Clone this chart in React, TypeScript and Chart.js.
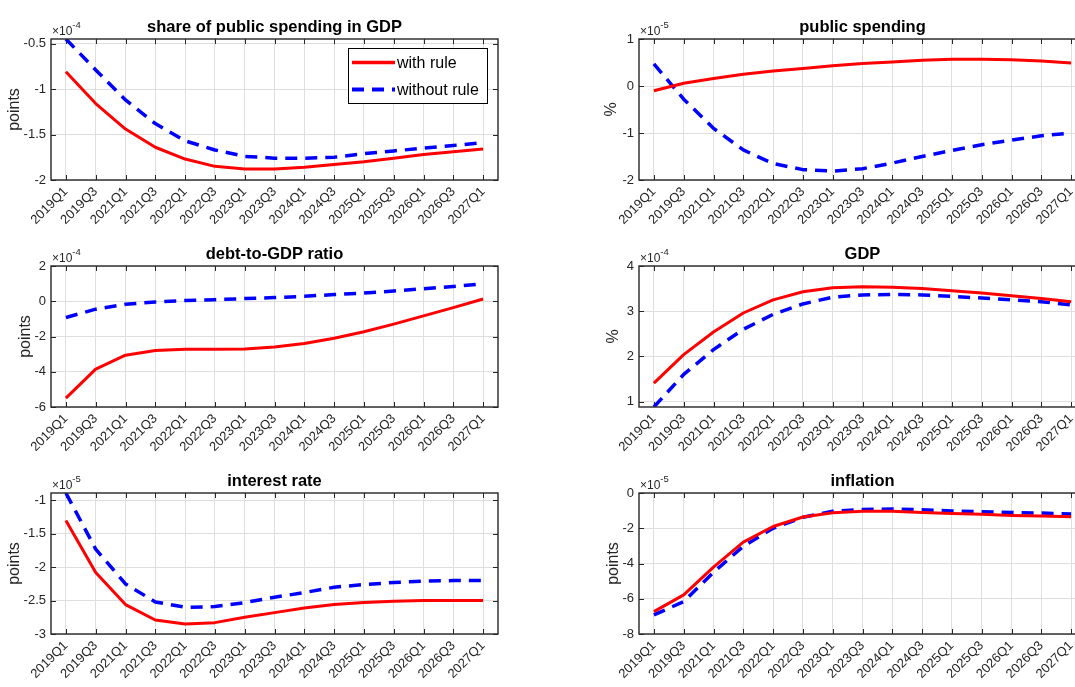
import React, { useEffect, useRef } from "react";
import { Chart, registerables } from "chart.js";

Chart.register(...registerables);

// ---------- data ----------
const QUARTERS = [
  "2019Q1", "2019Q3", "2021Q1", "2021Q3", "2022Q1", "2022Q3", "2023Q1", "2023Q3",
  "2024Q1", "2024Q3", "2025Q1", "2025Q3", "2026Q1", "2026Q3", "2027Q1",
];

const LEGEND_LABELS = ["with rule", "without rule"];

// share of public spending in GDP (x10^-4, points)
const SHARE_WITH = [-0.81, -1.16, -1.44, -1.64, -1.77, -1.85, -1.88, -1.88, -1.86, -1.83, -1.8, -1.76, -1.72, -1.69, -1.66];
const SHARE_WITHOUT = [-0.45, -0.79, -1.12, -1.38, -1.57, -1.67, -1.74, -1.76, -1.76, -1.75, -1.71, -1.68, -1.65, -1.62, -1.59];
const SHARE_TICKS = [-2, -1.5, -1, -0.5];

// public spending (x10^-5, %)
const SPEND_WITH = [-0.1, 0.06, 0.16, 0.25, 0.32, 0.37, 0.43, 0.48, 0.51, 0.55, 0.57, 0.57, 0.56, 0.53, 0.49];
const SPEND_WITHOUT = [0.47, -0.28, -0.9, -1.36, -1.65, -1.78, -1.81, -1.76, -1.64, -1.5, -1.37, -1.25, -1.15, -1.06, -1.0];
const SPEND_TICKS = [-2, -1, 0, 1];

// debt-to-GDP ratio (x10^-4, points)
const DEBT_WITH = [-5.5, -3.85, -3.06, -2.8, -2.73, -2.73, -2.71, -2.6, -2.4, -2.1, -1.73, -1.3, -0.83, -0.36, 0.13];
const DEBT_WITHOUT = [-0.92, -0.45, -0.17, -0.04, 0.04, 0.09, 0.15, 0.21, 0.28, 0.38, 0.47, 0.58, 0.71, 0.84, 0.99];
const DEBT_TICKS = [-6, -4, -2, 0, 2];

// GDP (x10^-4, %)
const GDP_WITH = [1.41, 2.04, 2.54, 2.96, 3.25, 3.43, 3.52, 3.54, 3.53, 3.5, 3.45, 3.4, 3.34, 3.28, 3.21];
const GDP_WITHOUT = [0.88, 1.6, 2.15, 2.6, 2.93, 3.16, 3.31, 3.36, 3.37, 3.36, 3.33, 3.29, 3.25, 3.21, 3.14];
const GDP_TICKS = [1, 2, 3, 4];

// interest rate (x10^-5, points)
const RATE_WITH = [-1.3, -2.08, -2.56, -2.79, -2.85, -2.83, -2.75, -2.68, -2.61, -2.56, -2.53, -2.51, -2.5, -2.5, -2.5];
const RATE_WITHOUT = [-0.89, -1.73, -2.25, -2.52, -2.6, -2.59, -2.53, -2.45, -2.38, -2.3, -2.26, -2.23, -2.21, -2.2, -2.2];
const RATE_TICKS = [-3, -2.5, -2, -1.5, -1];

// inflation (x10^-5, points)
const INFL_WITH = [-6.73, -5.78, -4.21, -2.79, -1.9, -1.36, -1.12, -1.04, -1.04, -1.1, -1.16, -1.21, -1.27, -1.31, -1.35];
const INFL_WITHOUT = [-6.92, -6.16, -4.5, -3.02, -2.0, -1.38, -1.04, -0.93, -0.91, -0.95, -1.02, -1.06, -1.1, -1.14, -1.19];
const INFL_TICKS = [-8, -6, -4, -2, 0];

// ---------- layout ----------
const FONT = "'Liberation Sans', Arial, Helvetica, sans-serif";
const INK = "#262626";
const COL_LEFT = [51, 639];
const ROW_TOP = [39, 266, 493];
const PLOT_W = 447;
const PLOT_H = 141;
const Y_AXIS_W = 50;
const X_AXIS_H = 56;
const TITLE_H = 30;
const PAD_RIGHT = 12;

type PanelCfg = {
  title: string;
  yLabel: string;
  exp: string;
  withRule: number[];
  withoutRule: number[];
  yMin: number;
  yMax: number;
  yTicks: number[];
  col: number;
  row: number;
  yTitlePad: number;
  legend?: boolean;
};

const PANELS: PanelCfg[] = [
  { title: "share of public spending in GDP", yLabel: "points", exp: "-4", withRule: SHARE_WITH, withoutRule: SHARE_WITHOUT, yMin: -2, yMax: -0.45, yTicks: SHARE_TICKS, col: 0, row: 0, yTitlePad: 4, legend: true },
  { title: "public spending", yLabel: "%", exp: "-5", withRule: SPEND_WITH, withoutRule: SPEND_WITHOUT, yMin: -2, yMax: 1, yTicks: SPEND_TICKS, col: 1, row: 0, yTitlePad: 13 },
  { title: "debt-to-GDP ratio", yLabel: "points", exp: "-4", withRule: DEBT_WITH, withoutRule: DEBT_WITHOUT, yMin: -6, yMax: 2, yTicks: DEBT_TICKS, col: 0, row: 1, yTitlePad: 15 },
  { title: "GDP", yLabel: "%", exp: "-4", withRule: GDP_WITH, withoutRule: GDP_WITHOUT, yMin: 0.88, yMax: 4, yTicks: GDP_TICKS, col: 1, row: 1, yTitlePad: 15 },
  { title: "interest rate", yLabel: "points", exp: "-5", withRule: RATE_WITH, withoutRule: RATE_WITHOUT, yMin: -3, yMax: -0.89, yTicks: RATE_TICKS, col: 0, row: 2, yTitlePad: 4 },
  { title: "inflation", yLabel: "points", exp: "-5", withRule: INFL_WITH, withoutRule: INFL_WITHOUT, yMin: -8, yMax: 0, yTicks: INFL_TICKS, col: 1, row: 2, yTitlePad: 15 },
];

const RED = "#ff0000";
const BLUE = "#0000ff";
const DASH = [12, 8];

// frame, inward ticks, exponent label and legend
const framePlugin = {
  id: "matlabFrame",
  beforeDatasetsDraw(chart: any) {
    const { ctx, chartArea } = chart;
    const { left, right, top, bottom } = chartArea;
    const xs = chart.scales.x;
    const ys = chart.scales.y;
    ctx.save();
    ctx.strokeStyle = INK;
    ctx.lineWidth = 1;
    const tl = 5;
    ctx.beginPath();
    for (let i = 0; i < xs.ticks.length; i++) {
      const px = Math.round(xs.getPixelForTick(i)) + 0.5;
      ctx.moveTo(px, bottom);
      ctx.lineTo(px, bottom - tl);
      ctx.moveTo(px, top);
      ctx.lineTo(px, top + tl);
    }
    for (const t of ys.ticks) {
      const py = Math.round(ys.getPixelForValue(t.value)) + 0.5;
      ctx.moveTo(left, py);
      ctx.lineTo(left + tl, py);
      ctx.moveTo(right, py);
      ctx.lineTo(right - tl, py);
    }
    ctx.stroke();
    ctx.restore();
  },
  afterDraw(chart: any, _args: any, opts: any) {
    const { ctx, chartArea } = chart;
    const { left, right, top, bottom } = chartArea;
    ctx.save();
    // box
    ctx.strokeStyle = INK;
    ctx.lineWidth = 1.4;
    ctx.strokeRect(left, top, right - left, bottom - top);
    // exponent
    ctx.fillStyle = INK;
    ctx.textBaseline = "alphabetic";
    ctx.textAlign = "left";
    ctx.font = `12px ${FONT}`;
    const base = "\u00d710";
    ctx.fillText(base, left + 1, top - 4);
    const w = ctx.measureText(base).width;
    ctx.font = `9.5px ${FONT}`;
    ctx.fillText(opts.exp || "", left + 1 + w, top - 11);
    // legend
    if (opts.legend) {
      const bw = 139;
      const bh = 55;
      const bx = right - 11 - bw;
      const by = top + 9;
      ctx.fillStyle = "#ffffff";
      ctx.fillRect(bx, by, bw, bh);
      ctx.strokeStyle = "#000000";
      ctx.lineWidth = 1;
      ctx.strokeRect(bx + 0.5, by + 0.5, bw, bh);
      const ds = chart.data.datasets;
      const rows = [by + 14.5, by + 41.5];
      ds.forEach((d: any, i: number) => {
        ctx.beginPath();
        ctx.strokeStyle = d.borderColor;
        ctx.lineWidth = d.borderWidth + 0.5;
        ctx.setLineDash(d.borderDash || []);
        ctx.moveTo(bx + 4, rows[i]);
        ctx.lineTo(bx + 47, rows[i]);
        ctx.stroke();
        ctx.setLineDash([]);
        ctx.fillStyle = "#000000";
        ctx.font = `16px ${FONT}`;
        ctx.textBaseline = "middle";
        ctx.fillText(d.label, bx + 49, rows[i] + 1);
      });
    }
    ctx.restore();
  },
};

function Panel({ cfg }: { cfg: PanelCfg }) {
  const ref = useRef<HTMLCanvasElement>(null);
  const cw = Y_AXIS_W + PLOT_W + PAD_RIGHT;
  const ch = TITLE_H + PLOT_H + X_AXIS_H;
  const cl = COL_LEFT[cfg.col] - Y_AXIS_W;
  const ct = ROW_TOP[cfg.row] - TITLE_H;

  useEffect(() => {
    const chart = new Chart(ref.current as HTMLCanvasElement, {
      type: "line",
      data: {
        labels: QUARTERS,
        datasets: [
          {
            label: LEGEND_LABELS[0],
            data: cfg.withRule,
            borderColor: RED,
            borderWidth: 3,
            pointRadius: 0,
            tension: 0,
            fill: false,
            borderCapStyle: "butt",
            borderJoinStyle: "round",
          },
          {
            label: LEGEND_LABELS[1],
            data: cfg.withoutRule,
            borderColor: BLUE,
            borderWidth: 3.5,
            borderDash: DASH,
            pointRadius: 0,
            tension: 0,
            fill: false,
            borderCapStyle: "butt",
            borderJoinStyle: "round",
          },
        ],
      },
      options: {
        responsive: false,
        animation: false,
        devicePixelRatio: 1,
        layout: { padding: { left: 0, right: PAD_RIGHT, top: 0, bottom: 0 } },
        scales: {
          x: {
            type: "category",
            offset: true,
            grid: { offset: false, color: "#dedede", lineWidth: 1, drawTicks: false },
            border: { display: false },
            ticks: {
              color: INK,
              font: { family: FONT, size: 13 },
              minRotation: 45,
              maxRotation: 45,
              autoSkip: false,
              padding: 4,
            },
            afterFit: (s: any) => {
              s.height = X_AXIS_H;
            },
          },
          y: {
            type: "linear",
            min: cfg.yMin,
            max: cfg.yMax,
            grid: { color: "#dedede", lineWidth: 1, drawTicks: false },
            border: { display: false },
            ticks: {
              color: INK,
              font: { family: FONT, size: 13 },
              padding: 5,
              callback: (v: any) => String(v),
            },
            afterBuildTicks: (s: any) => {
              s.ticks = cfg.yTicks.map((v) => ({ value: v }));
            },
            afterFit: (s: any) => {
              s.width = Y_AXIS_W;
            },
            title: {
              display: true,
              text: cfg.yLabel,
              color: INK,
              font: { family: FONT, size: 16 },
              padding: { top: cfg.yTitlePad, bottom: 0 },
            },
          },
        },
        plugins: {
          legend: { display: false },
          tooltip: { enabled: false },
          title: {
            display: true,
            text: cfg.title,
            fullSize: false,
            color: "#000000",
            font: { family: FONT, size: 16.5, weight: "bold" },
            padding: { top: 8.5, bottom: 1.7 },
          },
          matlabFrame: { exp: cfg.exp, legend: !!cfg.legend },
        } as any,
      },
      plugins: [framePlugin],
    } as any);
    return () => chart.destroy();
  }, []);

  return (
    <canvas
      ref={ref}
      width={cw}
      height={ch}
      style={{ position: "absolute", left: cl, top: ct, width: cw, height: ch, display: "block" }}
    />
  );
}

export default function App() {
  return (
    <div
      style={{
        position: "absolute",
        left: 0,
        top: 0,
        width: 1075,
        height: 687,
        overflow: "hidden",
        background: "#ffffff",
      }}
    >
      {PANELS.map((p, i) => (
        <Panel key={i} cfg={p} />
      ))}
    </div>
  );
}
